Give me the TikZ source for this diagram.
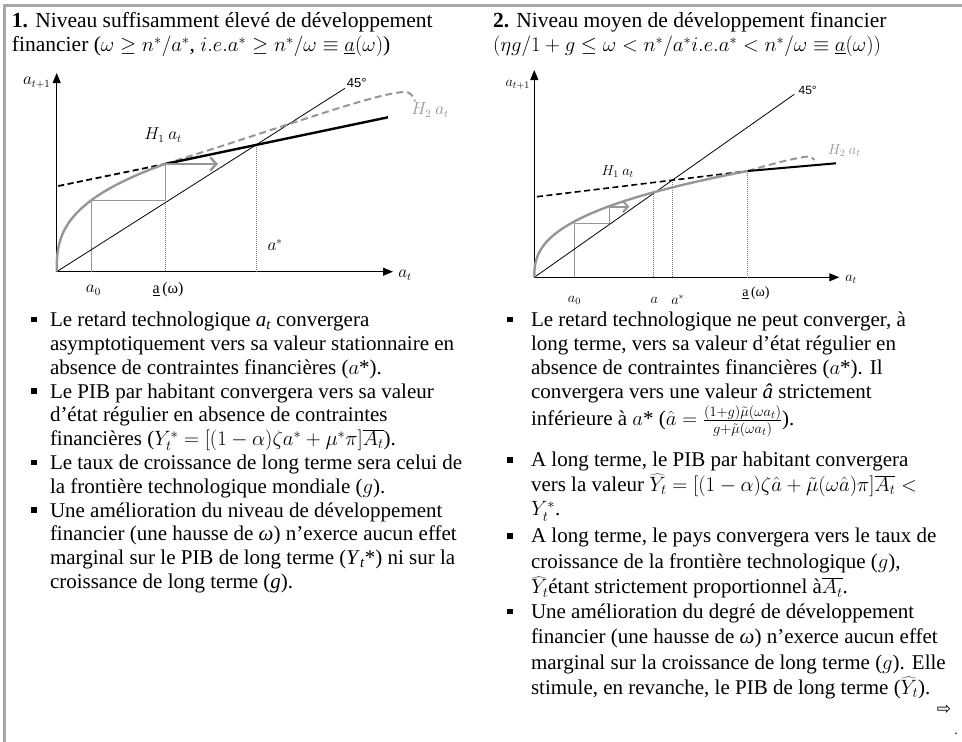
\documentclass[tikz,border=0pt]{standalone}
\usepackage{fontspec}
\setmainfont{Liberation Serif}
\setsansfont{Liberation Sans}
\newfontfamily\arrowfont{DejaVu Sans}
\usetikzlibrary{arrows.meta, calc}
\definecolor{framegray}{RGB}{168,168,168}
\definecolor{curvegray}{RGB}{150,150,150}
\definecolor{dotgray}{RGB}{120,120,120}
\newcommand\bodyfont[1][23.8]{\fontsize{21}{#1}\selectfont\lineskiplimit=-50pt\relax}
\newcommand\headfont{\fontsize{21.5}{23.8}\selectfont\lineskiplimit=-50pt\relax}
\newcommand\topstrut{\rule{0pt}{16.66pt}}

\begin{document}
\begin{tikzpicture}[
  x=1pt, y=-1pt,
  every node/.style = {inner sep=0pt, outer sep=0pt},
  txt/.style = {anchor=north west, align=left, font=\bodyfont},
  head/.style = {txt, font=\headfont},
  bul/.style = {rectangle, fill=black, minimum size=5.5pt},
  axis/.style = {-{Triangle[length=10pt, width=8pt]}, line width=1pt},
  diag/.style = {line width=0.8pt},
  hsolid/.style = {line width=2.4pt},
  hdash/.style = {line width=1.8pt, dash pattern=on 6pt off 3.5pt},
  rcurve/.style = {curvegray, line width=2.4pt},
  rdash/.style = {curvegray, line width=2pt, dash pattern=on 7pt off 4pt},
  stair/.style = {curvegray, line width=1pt},
  proj/.style = {dotgray, line width=1pt, dash pattern=on 1pt off 1pt},
  move/.style = {curvegray, line width=2.4pt, -{Straight Barb[length=6pt, width=13pt]}},
  lab/.style = {font=\fontsize{16}{18}\selectfont},
  labs/.style = {font=\fontsize{14}{16}\selectfont},
  deg/.style = {font=\sffamily\fontsize{13}{15}\selectfont}
]
\useasboundingbox (0,0) rectangle (962,742);
\draw[framegray, line width=3pt] (4.7,742) -- (4.7,5) -- (962,5);

\node[head] (head1) at (12,11.3) {\topstrut\textbf{1.} Niveau suffisamment élevé de développement\\
  financier ($\omega \geq n^*/a^*$, $i.e.a^* \geq n^*/\omega \equiv \underline{a}(\omega)$)};
\node[head] (head2) at (493,11.3) {\topstrut\textbf{2.} Niveau moyen de développement financier\\
  $(\eta g/1 + g \leq \omega < n^*/a^* i.e.a^* < n^*/\omega \equiv \underline{a}(\omega))$};

% graph 1
\coordinate (O1) at (56.7,271.7);
\coordinate (Y1) at (56.7,73);
\coordinate (X1) at (393,271.7);
\coordinate (D1) at (345,88.3);
\coordinate (H1a) at (58.3,186);
\coordinate (P1) at (165,164);
\coordinate (H1b) at (388,117.3);
\coordinate (S1) at (intersection of O1--D1 and H1a--H1b);
\draw[axis] (O1) -- (Y1);
\draw[axis] (O1) -- (X1);
\draw[proj] (P1) -- (P1 |- O1);
\draw[proj] (S1) -- (S1 |- O1);
\draw[stair] (91.7,271.7) -- (91.7,200) -- (165,200) -- (P1);
\draw[diag] (O1) -- (D1);
\draw[rdash] (P1) .. controls (290,125) and (370,95) .. (403,92) .. controls (409,91) and (413,95) .. (415,101);
\draw[hdash] (H1a) -- (P1);
\draw[hsolid] (P1) -- (H1b);
\draw[rcurve] (O1) -- plot[domain=0.001:1, samples=50] ({56.7+108.3*\x^2.78}, {271.7-107.7*\x});
\draw[move] (P1) -- ++(53,0);
\node[lab] (lat1) at (36.7,83) {$a_{t+1}$};
\node[deg] (deg1) at (356.7,83.3) {45°};
\node[lab, text=curvegray] (lh21) at (430,110) {$H_2\ a_t$};
\node[lab] (lh11) at (163,135) {$H_1\ a_t$};
\node[lab] (las1) at (275,245) {$a^*$};
\node[lab] (la01) at (93.3,290) {$a_0$};
\node[lab] (lao1) at (168,290) {\underline{a}\,(ω)};
\node[lab] (lax1) at (405,275) {$a_t$};

% graph 2
\coordinate (O2) at (534.3,277.3);
\coordinate (Y2) at (534.3,70);
\coordinate (X2) at (839.3,277.3);
\coordinate (D2) at (794.3,94.3);
\coordinate (H2a) at (537,196.7);
\coordinate (P2) at (747.7,171);
\coordinate (H2b) at (836,163.3);
\coordinate (Q2) at (653.7,192);
\coordinate (S2) at (intersection of O2--D2 and H2a--P2);
\draw[axis] (O2) -- (Y2);
\draw[axis] (O2) -- (X2);
\draw[proj] (Q2) -- (Q2 |- O2);
\draw[proj] (S2) -- (S2 |- O2);
\draw[proj] (P2) -- (P2 |- O2);
\draw[stair] (574.3,277.3) -- (574.3,223.3) -- (609.3,223.3) -- (609.3,206.7);
\draw[diag] (O2) -- (D2);
\draw[rdash] (P2) .. controls (775,163) and (795,158) .. (808,156.5) .. controls (811,156.5) and (813,158) .. (814.3,160);
\draw[hdash, line width=1.6pt] (H2a) -- (P2);
\draw[hsolid, line width=2pt] (P2) -- (H2b);
\draw[rcurve] (O2) -- plot[domain=0.001:1, samples=50] ({534.3+213.4*\x^2.6}, {277.3-106.3*\x});
\draw[move, line width=2pt, -{Straight Barb[length=5pt, width=11pt]}] (609.3,206.7) -- (629.3,206.7);
\node[labs] (lat2) at (517.7,85) {$a_{t+1}$};
\node[deg, font=\sffamily\fontsize{12}{14}\selectfont] (deg2) at (807.7,90) {45°};
\node[labs, text=curvegray] (lh22) at (844.3,150.7) {$H_2\ a_t$};
\node[labs] (lh12) at (617.7,171.7) {$H_1\ a_t$};
\node[labs] (la02) at (574.3,300) {$a_0$};
\node[labs] (lah2) at (654.3,300) {$a$};
\node[labs] (las2) at (677.7,300) {$a^*$};
\node[labs] (lao2) at (756,293.3) {\underline{a}\,(ω)};
\node[labs] (lax2) at (851,279.3) {$a_t$};

% left column
\node[txt] (tl1) at (50,310) {\topstrut Le retard technologique \textit{a}\textsubscript{\textit{t}} convergera\\
  asymptotiquement vers sa valeur stationnaire en\\
  absence de contraintes financières ($a$*).};
\node[txt] (tl2) at (50,381.4) {\topstrut Le PIB par habitant convergera vers sa valeur\\
  d’état régulier en absence de contraintes\\
  financières ($Y_t^* = [(1-\alpha)\zeta a^* + \mu^*\pi]\overline{A_t}$).};
\node[txt] (tl3) at (50,452.8) {\topstrut Le taux de croissance de long terme sera celui de\\
  la frontière technologique mondiale ($g$).};
\node[txt] (tl4) at (50,500.4) {\topstrut Une amélioration du niveau de développement\\
  financier (une hausse de \textit{ω}) n’exerce aucun effet\\
  marginal sur le PIB de long terme (\textit{Y}\textsubscript{\textit{t}}*) ni sur la\\
  croissance de long terme (\textit{g}).};
\foreach \i in {1,...,4}
  \node[bul] (bl\i) at ([xshift=-16pt, yshift=-9.7pt]tl\i.north west) {};

% right column
\node[txt] (tr1) at (531,310) {\topstrut Le retard technologique ne peut converger, à\\
  long terme, vers sa valeur d’état régulier en\\
  absence de contraintes financières ($a$*). Il\\
  convergera vers une valeur \textit{â} strictement\\[4pt]
  inférieure à $a$* ($\hat{a} = \frac{(1+g)\tilde{\mu}(\omega a_t)}{g+\tilde{\mu}(\omega a_t)}$).};
\node[txt, font={\bodyfont[24.5]}] (tr2) at (531,450.3) {\topstrut A long terme, le PIB par habitant convergera\\
  vers la valeur $\widehat{Y}_t = [(1-\alpha)\zeta\hat{a} + \tilde{\mu}(\omega\hat{a})\pi]\overline{A_t} <$\\
  $Y_t^*$.};
\node[txt, font={\bodyfont[25.5]}] (tr3) at (531,526.3) {\topstrut A long terme, le pays convergera vers le taux de\\
  croissance de la frontière technologique ($g$),\\
  $\widehat{Y}_t$étant strictement proportionnel à$\overline{A_t}$.};
\node[txt, font={\bodyfont[25.3]}] (tr4) at (531,601.8) {\topstrut Une amélioration du degré de développement\\
  financier (une hausse de \textit{ω}) n’exerce aucun effet\\
  marginal sur la croissance de long terme ($g$). Elle\\
  stimule, en revanche, le PIB de long terme ($\widehat{Y}_t$).};
\foreach \i in {1,...,4}
  \node[bul] (br\i) at ([xshift=-21pt, yshift=-9.7pt]tr\i.north west) {};

\node[font=\arrowfont\fontsize{17}{19}\selectfont] (next) at (944,710) {⇨};
\node[font=\fontsize{14}{16}\selectfont] (enddot) at (956,734) {.};
\end{tikzpicture}
\end{document}
